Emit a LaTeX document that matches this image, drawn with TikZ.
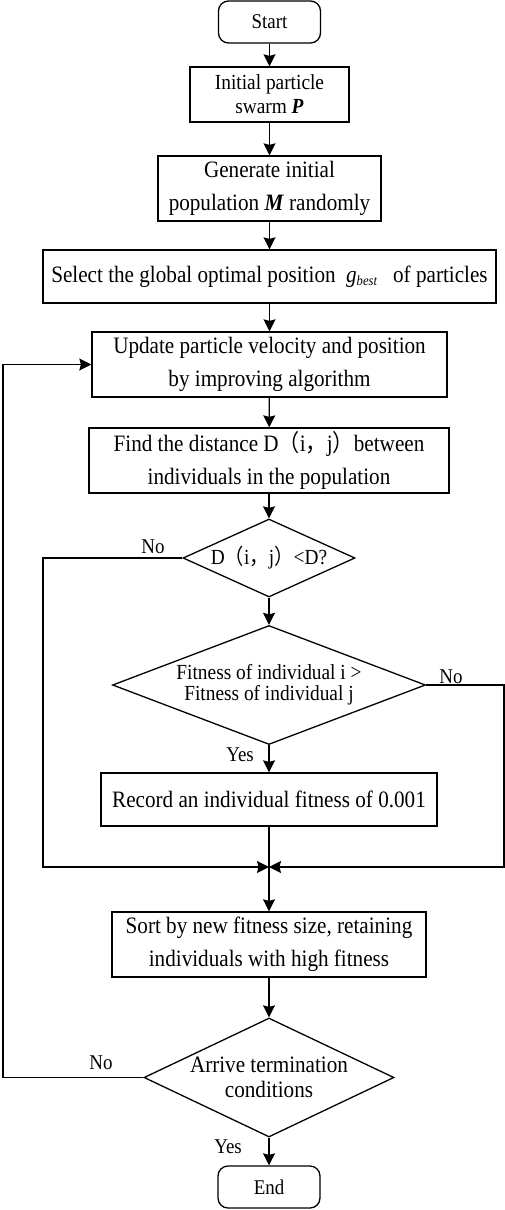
\documentclass[tikz,border=0pt]{standalone}
\usepackage{fontspec}
\setmainfont{Liberation Serif}[FakeStretch=0.9]
\newfontfamily\cjk{Noto Sans CJK SC}[FakeStretch=0.9]
\usetikzlibrary{shapes.geometric,arrows.meta}
\newcommand{\fw}[1]{{\cjk #1}}
\begin{document}
\begin{tikzpicture}[x=1pt,y=-1pt,
  line width=1.3pt,
  box/.style={draw, rectangle, inner sep=0pt, align=center, font=\fontsize{23.5}{33}\selectfont},
  term/.style={draw, rectangle, rounded corners=10pt, inner sep=0pt, minimum width=102pt, minimum height=42pt, font=\fontsize{21}{22}\selectfont},
  dec/.style={draw, diamond, inner sep=0pt, align=center},
  arr/.style={-{Stealth[length=12pt,width=12pt,inset=1.5pt]}},
  lab/.style={font=\fontsize{21}{22}\selectfont, inner sep=0pt}]
\useasboundingbox (0,0) rectangle (505,1210);

\node[term] (start) at (269.5,22) {Start};
\node[box, minimum width=159pt, minimum height=55pt, font=\fontsize{21.5}{24}\selectfont] (b1) at (269.5,94.5) {Initial particle\\swarm \textbf{\textit{P}}};
\node[box, minimum width=223pt, minimum height=65pt] (b2) at (269.5,188.5) {Generate initial\\population \textbf{\textit{M}} randomly};
\node[box, minimum width=453pt, minimum height=53pt] (b3) at (269.5,276.5) {Select the global optimal position \ \textit{g}\raisebox{-3.5pt}{\fontsize{14}{14}\selectfont\textit{best}}\ \ \ of particles};
\node[box, minimum width=355pt, minimum height=65pt] (b4) at (269.5,364.5) {Update particle velocity and position\\by improving algorithm};
\node[box, minimum width=360pt, minimum height=65pt] (b5) at (269,460.5) {Find the distance D\fw{（}i\fw{，}j\fw{）}between\\individuals in the population};
\node[dec, minimum width=172pt, minimum height=78pt, aspect=2.2, font=\fontsize{21.5}{22}\selectfont] (d1) at (269,558) {D\fw{（}i\fw{，}j\fw{）}<D?};
\node[dec, minimum width=313pt, minimum height=119pt, aspect=2.63, font=\fontsize{21.5}{21}\selectfont] (d2) at (269,685) {Fitness of individual i >\\Fitness of individual j};
\node[box, minimum width=336pt, minimum height=53pt] (b6) at (269,799.5) {Record an individual fitness of 0.001};
\coordinate (jn) at (269,867);
\node[box, minimum width=314pt, minimum height=65pt] (b7) at (269,944.5) {Sort by new fitness size, retaining\\individuals with high fitness};
\node[dec, minimum width=250pt, minimum height=119pt, aspect=2.1, font=\fontsize{23.5}{25}\selectfont] (d3) at (269,1077.5) {Arrive termination\\conditions};
\node[term] (end) at (269,1187) {End};

\coordinate (l1) at (43,558);
\coordinate (r2) at (504,685);
\coordinate (l3) at (3,1077.5);

\draw[arr] (start) -- (b1);
\draw[arr] (b1) -- (b2);
\draw[arr] (b2) -- (b3);
\draw[arr] (b3) -- (b4);
\draw[arr] (b4) -- (b5);
\draw[arr] (b5) -- (d1);
\draw[arr] (d1) -- (d2);
\draw[arr] (d2) -- (b6);
\draw[arr] (d1.west) -- (l1) |- (jn);
\draw[arr] (d2.east) -- (r2) |- (jn);
\draw (b6) -- (jn);
\draw[arr] (jn) -- (b7);
\draw[arr] (b7) -- (d3);
\draw[arr] (d3) -- (end);
\draw[arr] (d3.west) -- (l3) |- (b4.west);

\node[lab] (no1) at (153,547) {No};
\node[lab] (no2) at (451,677) {No};
\node[lab] (yes2) at (240,755) {Yes};
\node[lab] (no3) at (101,1063) {No};
\node[lab] (yes3) at (228,1147) {Yes};
\end{tikzpicture}
\end{document}
